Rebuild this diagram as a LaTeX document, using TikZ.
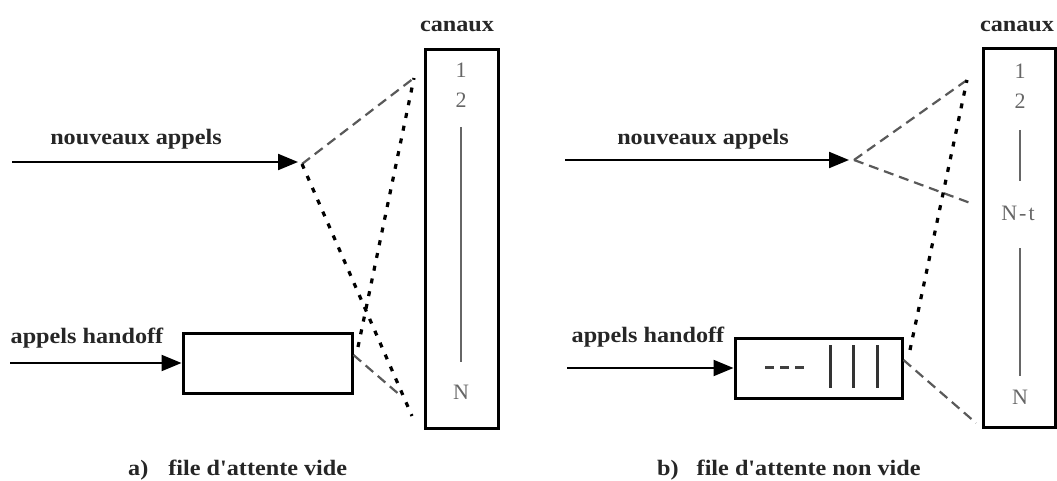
\documentclass[tikz,border=0pt]{standalone}
\usepackage{fontspec}
\setmainfont{Liberation Serif}
\newfontfamily\lblfont{Liberation Serif}[FakeStretch=1.1]
\usetikzlibrary{arrows.meta}

\tikzset{
  lbl/.style={font=\lblfont\fontsize{22}{26}\selectfont\bfseries, text=black!85, inner sep=0pt},
  num/.style={font=\fontsize{22}{26}\selectfont, text=black!60, inner sep=0pt},
  chanbox/.style={draw, line width=3pt, inner sep=0pt, minimum width=73pt, minimum height=379pt},
  queuebox/.style={draw, line width=3pt, inner sep=0pt, minimum height=60pt},
  flow/.style={line width=2.2pt, -{Triangle[length=20pt, width=16pt]}},
  dashlink/.style={line width=2.2pt, black!65, dash pattern=on 10pt off 6pt},
  dotlink/.style={line width=3.2pt, dash pattern=on 5pt off 8pt},
  rung/.style={line width=2pt, black!60}
}

\begin{document}
\begin{tikzpicture}[x=1pt, y=-1pt]

\path [use as bounding box] (0,0) rectangle (1057,481);

% A) FILE VIDE
\node [chanbox] (chanA) at (461.5,239) {};
\node [lbl] (canA) at (457,26) {canaux};
\node [num] (oneA) at (461,70) {1};
\node [num] (twoA) at (461,100) {2};
\node [num] (nA) at (461,392) {N};
\draw [rung] (461,127) -- (461,362);

\coordinate (inA) at (12,162);
\coordinate (tipA) at (298,162);
\coordinate (splitA) at (302,164);
\coordinate (topA) at (414,78);
\coordinate (botA) at (412,416);
\draw [flow] (inA) -- (tipA);
\node [lbl] (newA) at (136,139) {nouveaux appels};

\node [queuebox, minimum width=169pt] (queueA) at (267.5,363) {};
\coordinate (hinA) at (10,363);
\draw [flow] (hinA) -- (queueA.west);
\node [lbl] (hoA) at (87,338) {appels handoff};
\coordinate (qtopA) at (358,347);
\coordinate (qendA) at (401,396);

\draw [dashlink] (splitA) -- (topA);
\draw [dotlink] (splitA) -- (botA);
\draw [dotlink] (qtopA) -- (topA);
\draw [dashlink] (queueA.east) ++(0,-8) -- (qendA);

\node [lbl, anchor=base west] (capA) at (128,475) {a)\hspace{20pt}file d'attente vide};

% B) FILE NON VIDE
\node [chanbox, minimum width=72pt] (chanB) at (1019,238) {};
\node [lbl] (canB) at (1017,26) {canaux};
\node [num] (oneB) at (1020,71) {1};
\node [num] (twoB) at (1020,101) {2};
\node [num] (ntB) at (1018,213) {N\kern2pt-\kern2pt t};
\node [num] (nB) at (1020,397) {N};
\draw [rung] (1020,130) -- (1020,181);
\draw [rung] (1020,248) -- (1020,376);

\coordinate (inB) at (565,160);
\coordinate (tipB) at (849,160);
\coordinate (splitB) at (854,160);
\coordinate (topB) at (967,80);
\coordinate (midB) at (973,204);
\draw [flow] (inB) -- (tipB);
\node [lbl] (newB) at (703,139) {nouveaux appels};

\node [queuebox, minimum width=167pt] (queueB) at (818.5,368) {};
\coordinate (hinB) at (567,368);
\draw [flow] (hinB) -- (queueB.west);
\node [lbl] (hoB) at (648,337) {appels handoff};
\draw [line width=3pt, black!75, dash pattern=on 9pt off 6pt] (765,367) -- (810,367);
\foreach \bx in {830,853,877}
  \draw [line width=3pt, black!80] (\bx,345) -- (\bx,388);
\coordinate (qtopB) at (910,350);
\coordinate (qendB) at (976,423);

\draw [dashlink] (splitB) -- (topB);
\draw [dashlink] (splitB) -- (midB);
\draw [dotlink] (qtopB) -- (topB);
\draw [dashlink] (queueB.east) ++(0,-8) -- (qendB);

\node [lbl, anchor=base west] (capB) at (657,475) {b)\hspace{18pt}file d'attente non vide};

\end{tikzpicture}
\end{document}
